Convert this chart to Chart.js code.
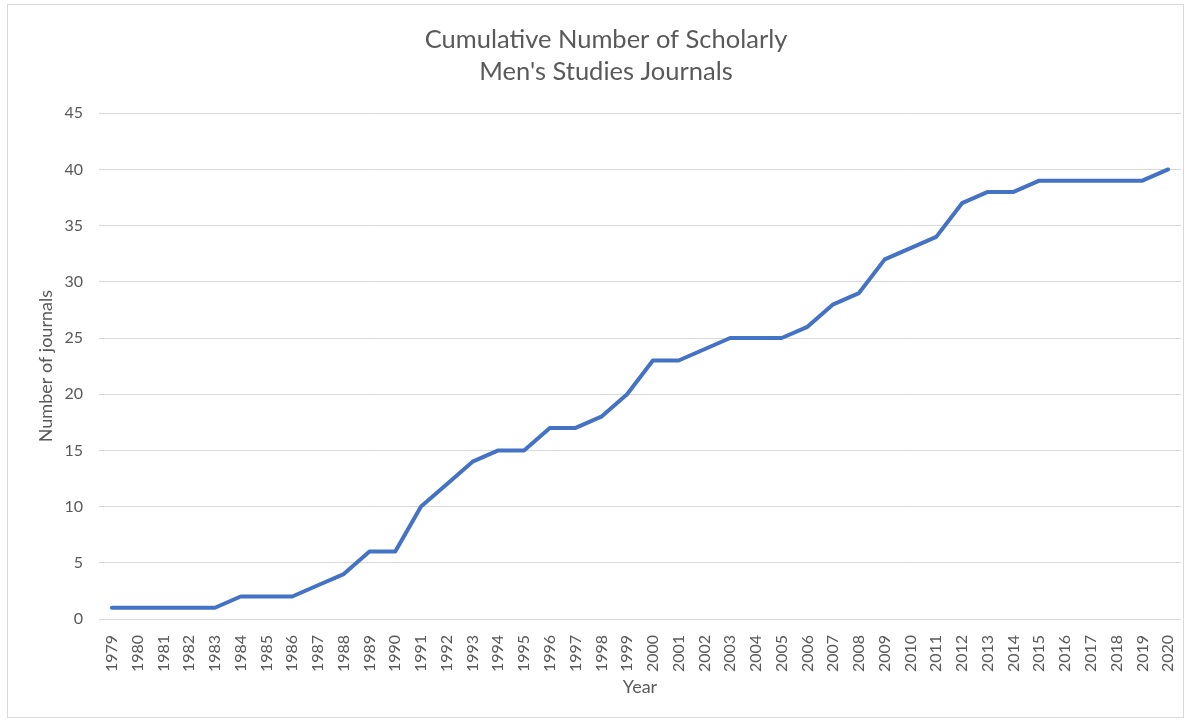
<!DOCTYPE html>
<html>
<head>
<meta charset="utf-8">
<script src="https://cdn.jsdelivr.net/npm/chart.js@4"></script>
<style>
  html, body { margin: 0; padding: 0; background: #fff; }
  #frame { position: absolute; left: 7px; top: 4px; width: 1175px; height: 712px; border: 1px solid #d9d9d9; }
  #wrap { position: absolute; left: 0; top: 0; width: 1189px; height: 721px; }
</style>
</head>
<body>
<div id="frame"></div>
<div id="wrap"><canvas id="chart"></canvas></div>
<script>
const years = ['1979','1980','1981','1982','1983','1984','1985','1986','1987','1988',
  '1989','1990','1991','1992','1993','1994','1995','1996','1997','1998','1999',
  '2000','2001','2002','2003','2004','2005','2006','2007','2008','2009','2010',
  '2011','2012','2013','2014','2015','2016','2017','2018','2019','2020'];
const journals = [1,1,1,1,1,2,2,2,3,4,
  6,6,10,12,14,15,15,17,17,18,20,
  23,23,24,25,25,25,26,28,29,32,33,
  34,37,38,38,39,39,39,39,39,40];
const yTicks = { min: 0, max: 45, step: 5 };

const font = "Lato, 'Open Sans', sans-serif";
const grey = '#595959';

const ctx = document.getElementById('chart');

new Chart(ctx, {
    type: 'line',
    data: {
        labels: years,
        datasets: [{
            label: 'Journals',
            data: journals,
            borderColor: '#4472C4',
            borderWidth: 4,
            borderCapStyle: 'round',
            borderJoinStyle: 'round',
            pointRadius: 0,
            tension: 0,
            fill: false
        }]
    },
    options: {
        responsive: true,
        maintainAspectRatio: false,
        animation: false,
        layout: { padding: { left: 31, right: 8, top: 0, bottom: 23 } },
        plugins: {
            legend: { display: false },
            tooltip: { enabled: false },
            title: {
                display: true,
                text: ['Cumulative Number of Scholarly', "Men's Studies Journals"],
                color: grey,
                font: { family: font, size: 25.5, weight: 'normal', lineHeight: 1.26 },
                padding: { top: 24, bottom: 25 }
            }
        },
        scales: {
            x: {
                offset: true,
                grid: { display: false },
                border: { display: false },
                ticks: {
                    color: grey,
                    font: { family: font, size: 16 },
                    minRotation: 90,
                    maxRotation: 90,
                    autoSkip: false,
                    padding: 8
                },
                title: {
                    display: true,
                    text: 'Year',
                    color: grey,
                    font: { family: font, size: 18 },
                    padding: { top: 4, bottom: 0 }
                },
                afterFit: axis => {
                    axis.height = 79;
                    axis.paddingLeft = 0;
                    axis.paddingRight = 0;
                }
            },
            y: {
                min: yTicks.min,
                max: yTicks.max,
                border: { display: false },
                grid: { color: '#d9d9d9', lineWidth: 1, drawTicks: false },
                ticks: {
                    stepSize: yTicks.step,
                    color: grey,
                    font: { family: font, size: 16 },
                    padding: 16
                },
                title: {
                    display: true,
                    text: 'Number of journals',
                    color: grey,
                    font: { family: font, size: 18 },
                    padding: { top: 4, bottom: 0 }
                },
                afterFit: axis => { axis.width = 68; }
            }
        }
    }
});
</script>
</body>
</html>
